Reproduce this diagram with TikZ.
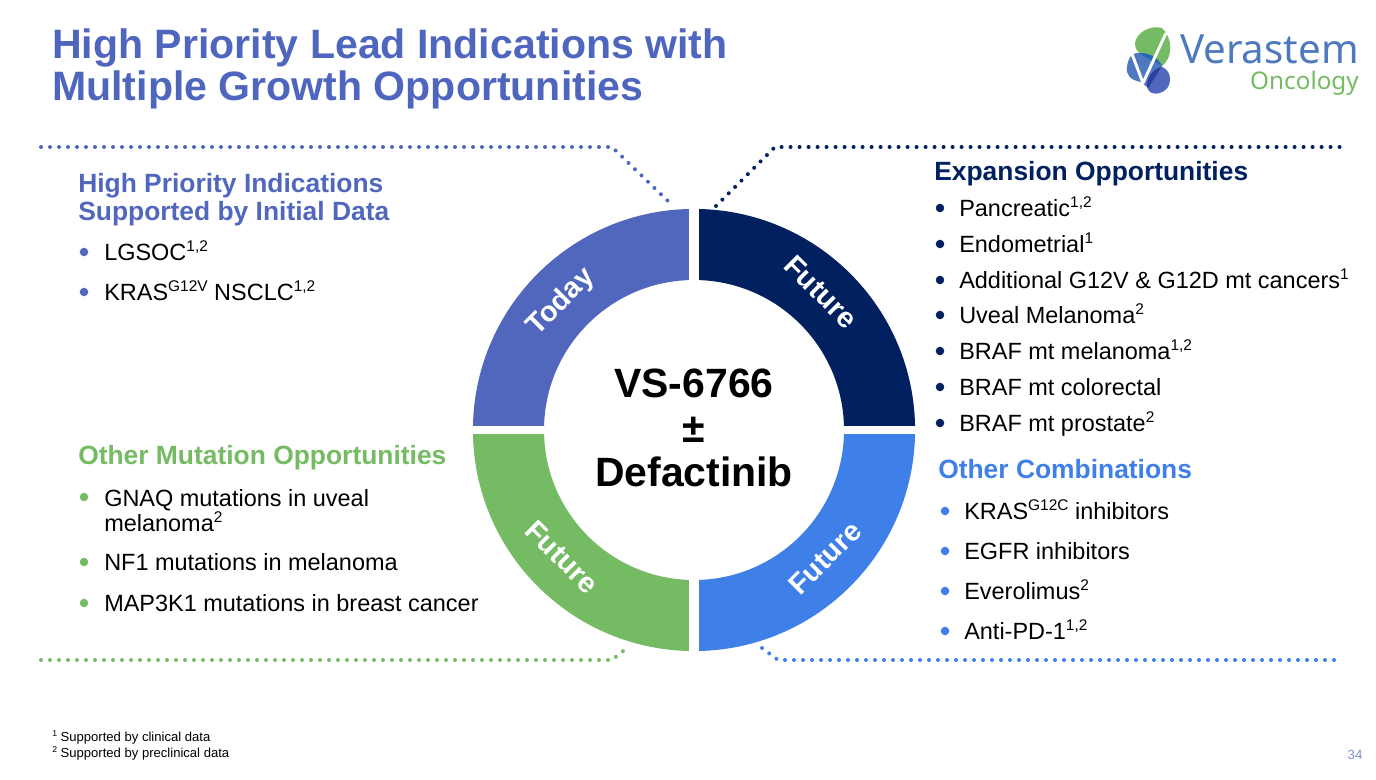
\documentclass[tikz,border=0pt]{standalone}
\usepackage{fontspec}
\setmainfont{Liberation Sans}
\newfontfamily\logofont{Noto Sans}
\usetikzlibrary{positioning}

\definecolor{titleblue}{HTML}{4F66BE}
\definecolor{todayblue}{HTML}{5067BD}
\definecolor{navyblue}{HTML}{002060}
\definecolor{brightblue}{HTML}{3F7FE8}
\definecolor{leafgreen}{HTML}{75BB63}
\definecolor{logoblue}{HTML}{4F79BE}
\definecolor{logodeep}{HTML}{1F6BB8}
\definecolor{logodark}{HTML}{2A3FA0}
\definecolor{logopurple}{HTML}{5067BD}
\definecolor{pagegrey}{HTML}{7F93C8}

\newcommand{\fsz}[1]{\fontsize{#1}{#1}\selectfont}
\newcommand{\sups}[1]{\smash{\raisebox{6.8pt}{\fsz{11.6}#1}}}
\newcommand{\notesup}[1]{\raisebox{3.6pt}{\fsz{6.5}#1}}
\newcommand{\quadrant}[3]{% colour, start angle, end angle
  \fill[#1] (694,430) ++(#2:165.8pt) arc[start angle=#2, end angle=#3, radius=165.8pt]
    -- ++(#3:-53.3pt) arc[start angle=#3, end angle=#2, radius=112.5pt] -- cycle;
}
\newcommand{\logoleaf}{(1135,43) .. controls (1137,32) and (1150,25) .. (1162,28)
  .. controls (1173,38) and (1173,58) .. (1162,66) .. controls (1152,58) and (1134,56) .. (1135,43)}
\newcommand{\logoblob}{(1127,67) .. controls (1128,58) and (1132,52) .. (1140,53)
  .. controls (1150,53) and (1158,58) .. (1162,66) -- (1148,88) -- (1141,82)
  .. controls (1130,80) and (1126,75) .. (1127,67)}
\newcommand{\logoball}{(1147,86) .. controls (1147,76) and (1154,68) .. (1162,67)
  .. controls (1170,70) and (1172,80) .. (1168,87) .. controls (1163,95) and (1148,97) .. (1147,86)}

\tikzset{
  titletext/.style={anchor=west, inner sep=0pt, font=\fsz{30.8}\bfseries, text=titleblue, align=left},
  headtext/.style={anchor=west, inner sep=0pt, font=\fsz{19.8}\bfseries, align=left},
  itemtext/.style={anchor=west, inner sep=0pt, font=\fsz{17.6}, text=black, align=left},
  lineitem/.style={itemtext, text height=12.6pt, text depth=0pt},
  notetext/.style={anchor=west, inner sep=0pt, font=\fsz{9.8}, text=black},
  bulletdot/.style={circle, fill=#1, inner sep=0pt, minimum size=6.4pt},
  ringtext/.style={font=\fsz{21.5}\bfseries, text=white, inner sep=0pt},
  dotline/.style={line width=3pt, line cap=round, dash pattern=on 0pt off 6.75pt},
}

\begin{document}
\begin{tikzpicture}[x=0.75pt, y=-0.75pt, line join=round]
\useasboundingbox (0,0) rectangle (1376,780);

% title
\node (title) at (52,68.5) [titletext] {High Priority Lead Indications with\\[0.7pt]Multiple Growth Opportunities};

% logo
\fill[leafgreen] \logoleaf;
\fill[logoblue] \logoblob;
\fill[logopurple] \logoball;
\begin{scope}
\clip \logoleaf;
\fill[logodeep] \logoblob;
\end{scope}
\begin{scope}
\clip \logoball;
\fill[logodark] \logoblob;
\end{scope}
\draw[white, line width=2.2pt] (1166,33) -- (1143,83) -- (1132,54);
\node (verastem) at (1359,49) [anchor=east, inner sep=0pt, text=logoblue, font=\logofont\fsz{30.2}] {Verastem};
\node (oncology) at (1359,83) [anchor=east, inner sep=0pt, text=leafgreen, font=\logofont\fsz{18.2}] {Oncology};

% ring
\quadrant{todayblue}{90}{180}
\quadrant{navyblue}{0}{90}
\quadrant{leafgreen}{180}{270}
\quadrant{brightblue}{270}{360}
\draw[white, line width=8.2pt] (694,200) -- (694,660);
\draw[white, line width=6.4pt] (460,430) -- (930,430);

\node (today) at (561,302) [ringtext, rotate=45] {Today};
\node (futuretop) at (821,292) [ringtext, rotate=-45] {Future};
\node (futureleft) at (562,557) [ringtext, rotate=-45] {Future};
\node (futureright) at (825,558) [ringtext, rotate=45] {Future};

\node (drug) at (694,428) [inner sep=0pt, align=center, font=\fsz{30.7}\bfseries] {VS-6766\\[2.5pt]±\\[2.5pt]Defactinib};

% dotted leaders
\coordinate (tlstart) at (41,147);
\coordinate (tlbend) at (612,147);
\coordinate (tlend) at (671,204);
\coordinate (trend) at (716,206);
\coordinate (trbend) at (775,147);
\coordinate (trstop) at (1340,147);
\coordinate (blstart) at (41,660);
\coordinate (blbend) at (612,660);
\coordinate (blend) at (628,647);
\coordinate (brend) at (762,648);
\coordinate (brbend) at (778,660);
\coordinate (brstop) at (1340,660);

\draw[dotline, todayblue] (tlstart) -- (tlbend) -- (tlend);
\draw[dotline, navyblue] (trend) -- (trbend) -- (trstop);
\draw[dotline, leafgreen] (blstart) -- (blbend) -- (blend);
\draw[dotline, brightblue] (brend) -- (brbend) -- (brstop);

% upper left
\node (priorityhead) at (78,199.5) [headtext, text=todayblue] {High Priority Indications\\[1.2pt]Supported by Initial Data};
\node (lgsocdot) at (84,252) [bulletdot=todayblue] {};
\node (lgsoc) at (104,252) [lineitem] {LGSOC\sups{1,2}};
\node (krasdot) at (84,292) [bulletdot=todayblue] {};
\node (kras) at (104,292) [lineitem] {KRAS\sups{G12V} NSCLC\sups{1,2}};

% lower left
\node (mutationhead) at (78,458) [headtext, text=leafgreen] {Other Mutation Opportunities};
\node (gnaqdot) at (84,497) [bulletdot=leafgreen] {};
\node (gnaq) at (104,510.5) [itemtext] {GNAQ mutations in uveal\\[1.2pt]melanoma\sups{2}};
\node (nfdot) at (84,562) [bulletdot=leafgreen] {};
\node (nf) at (104,562) [lineitem] {NF1 mutations in melanoma};
\node (mapdot) at (84,603) [bulletdot=leafgreen] {};
\node (map) at (104,603) [lineitem] {MAP3K1 mutations in breast cancer};

% upper right
\node (expansionhead) at (934,174) [headtext, text=navyblue] {Expansion Opportunities};
\foreach \name/\ypos/\label in {
  pancreatic/208/{Pancreatic\sups{1,2}},
  endometrial/244/{Endometrial\sups{1}},
  additional/280/{Additional G12V \& G12D mt cancers\sups{1}},
  uveal/315/{Uveal Melanoma\sups{2}},
  melanoma/351/{BRAF mt melanoma\sups{1,2}},
  colorectal/387/{BRAF mt colorectal},
  prostate/423/{BRAF mt prostate\sups{2}}} {
  \node (\name dot) at (940,\ypos) [bulletdot=navyblue] {};
  \node (\name) at (959,\ypos) [lineitem] {\label};
}

% lower right
\node (combohead) at (938,469) [headtext, text=brightblue] {Other Combinations};
\foreach \name/\ypos/\label in {
  krasg/511/{KRAS\sups{G12C} inhibitors},
  egfr/551/{EGFR inhibitors},
  everolimus/591/{Everolimus\sups{2}},
  antipd/631/{Anti-PD-1\sups{1,2}}} {
  \node (\name dot) at (945,\ypos) [bulletdot=brightblue] {};
  \node (\name) at (964,\ypos) [lineitem] {\label};
}

% footnotes
\node (noteone) at (52,737) [notetext] {\notesup{1} Supported by clinical data};
\node (notetwo) at (52,753) [notetext] {\notesup{2} Supported by preclinical data};
\node (pagenum) at (1355,755) [inner sep=0pt, text=pagegrey, font=\fsz{10}] {34};

\end{tikzpicture}
\end{document}
